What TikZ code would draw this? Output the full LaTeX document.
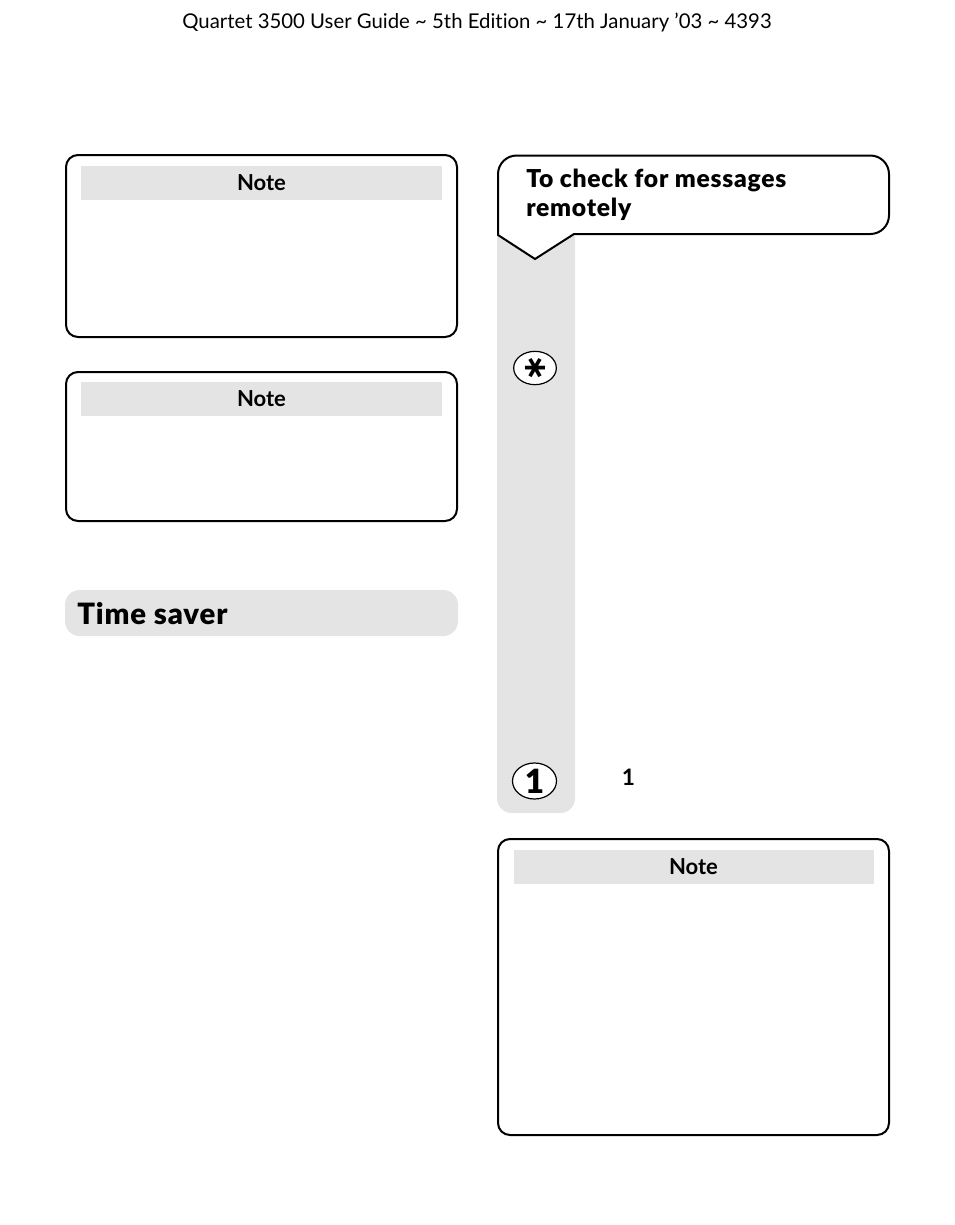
\documentclass[tikz,border=0pt]{standalone}
\usepackage{fontspec}
\usepackage{tikz}
\setmainfont{Lato}[Ligatures=NoCommon]
\newfontfamily\heavyfont{Lato Black}[Ligatures=NoCommon, LetterSpace=3]
\newfontfamily\symfont{DejaVu Sans Bold}
\definecolor{bandgray}{gray}{0.895}
\tikzset{
  notebox/.style={draw, line width=1.5pt, rounded corners=9pt},
  noteband/.style={fill=bandgray, minimum height=25.5pt, inner sep=0pt, font=\fontsize{16.5}{20}\selectfont\bfseries},
  keyoval/.style={draw, ellipse, fill=white, line width=0.9pt, inner sep=0pt},
  titletext/.style={anchor=base west, inner sep=0pt, font=\fontsize{18.5}{29}\selectfont\heavyfont}
}
\usetikzlibrary{shapes.geometric}
\begin{document}
\begin{tikzpicture}[x=0.75pt, y=-0.75pt]
        \useasboundingbox (0,0) rectangle (954,1225);
        \node[anchor=base, font=\fontsize{15.26}{19}\selectfont] at (477,28) (header) {Quartet 3500 User Guide \textasciitilde{} 5th Edition \textasciitilde{} 17th January ’03 \textasciitilde{} 4393};

        % note boxes, with a grey heading band
        \foreach \xa/\ya/\xb/\yb/\yn/\bw [count=\ni from 1] in {66/155/457/337/183/361, 66/372/457/521/399/361, 498/839/889/1135/867/360}{
          \draw[notebox] (\xa,\ya) rectangle (\xb,\yb);
          \node[noteband, minimum width={\bw*0.75pt}] at ({(\xa+\xb)/2},\yn) (note\ni) {Note};
        }

        % time saver
        \fill[bandgray, rounded corners=11pt] (65,590) rectangle (458,636);
        \node[anchor=base west, inner sep=0pt, font=\fontsize{22}{26}\selectfont\heavyfont] at (77,624) (saver) {Time saver};

        % steps column and callout
        \fill[bandgray, rounded corners=11pt] (497,225) -- (497,813) -- (575,813) -- (575,225) -- cycle;
        \draw[line width=1.5pt, fill=white, line join=miter]
          (574,234) -- (535,259) -- (498,235) -- (498,180)
          {[rounded corners=14pt] -- (498,155.5) -- (889,155.5) -- (889,234) -- (700,234)} -- cycle;
        \node[titletext] at (526,187) (title) {To check for messages};
        \node[titletext] at (526,216) (title2) {remotely};

        % keys
        \node[keyoval, minimum width=32pt, minimum height=25pt] at (535,368) (star) {};
        \node[inner sep=0pt, rotate=90, font=\fontsize{24}{24}\selectfont\symfont] at (535,368) (starmark) {∗};
        \node[keyoval, minimum width=33pt, minimum height=27pt] at (534.5,781) (one) {\fontsize{25}{25}\selectfont\heavyfont 1};
        \node[font=\fontsize{17}{19}\selectfont\bfseries] at (628.5,777) (digit) {1};
        \end{tikzpicture}
\end{document}
